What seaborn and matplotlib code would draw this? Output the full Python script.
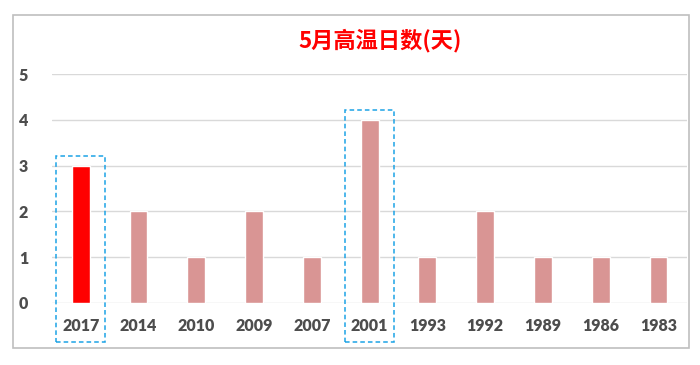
import seaborn as sns
import matplotlib.pyplot as plt
import pandas as pd
from matplotlib.patches import Rectangle

years = ["2017", "2014", "2010", "2009", "2007", "2001", "1993", "1992", "1989", "1986", "1983"]
days = [3, 2, 1, 2, 1, 4, 1, 2, 1, 1, 1]
highlight = ["2017", "2001"]
title = "5月高温日数(天)"

df = pd.DataFrame({"year": years, "days": days})

sns.set_theme(style="white")
plt.rcParams['font.family'] = ['Lato', 'Noto Sans CJK SC', 'DejaVu Sans']

fig = plt.figure(figsize=(7, 3.65), dpi=100)
ax = fig.add_axes([0.074, 0.17, 0.908, 0.627])

colors = ["#FF0000" if y == "2017" else "#D99594" for y in years]
sns.barplot(data=df, x="year", y="days", hue="year", palette=colors,
            legend=False, width=0.31, saturation=1, ax=ax, zorder=3)

ax.set_ylim(0, 5)
ax.set_xlim(-0.5, len(years) - 0.5)
ax.set_yticks(range(0, 6))
ax.yaxis.grid(True, color="#D9D9D9", linewidth=1)
ax.set_axisbelow(True)
for s in ax.spines.values():
    s.set_visible(False)
ax.set_xlabel("")
ax.set_ylabel("")
ax.tick_params(axis="both", length=0, labelcolor="#4D4D4D", labelsize=11.5)
ax.tick_params(axis="x", pad=11)
ax.tick_params(axis="y", pad=17)
for lab in ax.get_xticklabels() + ax.get_yticklabels():
    lab.set_fontweight("heavy")

# dashed boxes around highlighted years
for y in highlight:
    i = years.index(y)
    top = days[i] + 0.22
    rect = Rectangle((i - 0.42, -0.86), 0.84, top + 0.86, fill=False,
                     edgecolor="#1CA3E6", linestyle=(0, (3, 2)), linewidth=1.1,
                     clip_on=False, zorder=4)
    ax.add_patch(rect)

fig.text(0.543, 0.89, title, ha="center", va="center", color="#FF0000",
         fontsize=16, fontweight="bold", family=['Noto Sans CJK SC', 'DejaVu Sans'])

# outer frame
fig.patches.append(Rectangle((0.019, 0.047), 0.966, 0.912, transform=fig.transFigure,
                             fill=False, edgecolor="#BFBFBF", linewidth=1.2))

fig.savefig("out.png", dpi=100)
